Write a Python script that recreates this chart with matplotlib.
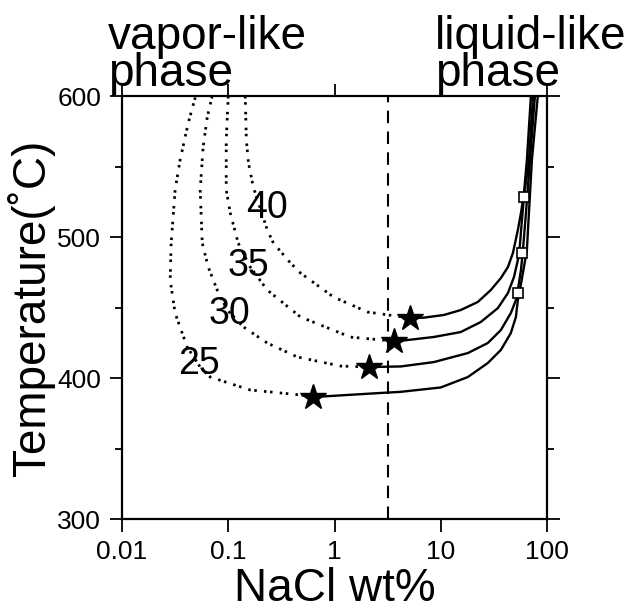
import numpy as np
import matplotlib.pyplot as plt
from matplotlib.ticker import FixedLocator, FixedFormatter, MultipleLocator, NullLocator

plt.rcParams['font.family'] = ['Liberation Sans', 'DejaVu Sans']

# pressure of each curve (MPa)
pressures = [25, 30, 35, 40]

# vapor-like branches (dotted): NaCl wt% / temperature
vap_x = {
    25: [0.0489, 0.042, 0.0352, 0.0316, 0.029, 0.0284, 0.0316, 0.041, 0.0544, 0.0676, 0.161, 0.478, 0.63],
    30: [0.0706, 0.0634, 0.058, 0.0544, 0.0569, 0.0648, 0.0787, 0.098, 0.139, 0.233, 0.448, 1.14, 2.09],
    35: [0.1, 0.0957, 0.0957, 0.1045, 0.124, 0.161, 0.233, 0.478, 1.42, 3.6],
    40: [0.1445, 0.148, 0.155, 0.172, 0.233, 0.266, 0.385, 0.478, 0.98, 2.05, 5.1],
}
vap_t = {
    25: [599, 580.9, 554.6, 533.3, 495.7, 469.5, 446, 422, 407.8, 400.7, 391.5, 388, 386.5],
    30: [600, 585, 563.8, 533.3, 495.7, 478.7, 462.4, 448.2, 436.2, 424.8, 414.9, 408.5, 407.8],
    35: [600, 568.8, 533.3, 517, 495.7, 478.7, 462.4, 443.3, 429, 426.2],
    40: [600, 568.8, 552.5, 535.5, 505, 495.7, 481.6, 474.5, 457.4, 446.8, 442.6],
}

# liquid-like branches (solid)
liq_x = {
    25: [0.63, 2.72, 4.2, 10, 18, 27.7, 36.8, 45.7, 51, 53.2, 55.6, 60.7, 64.7, 67.6, 72.1, 82],
    30: [2.09, 4.2, 8.6, 18, 27.7, 36.8, 45.7, 51, 53.2, 56.9, 59.4, 63.4, 69.2, 77],
    35: [3.6, 4.2, 8.6, 15.4, 23.8, 34.5, 42.9, 48.9, 53.2, 55.6, 58.1, 60.7, 67.6, 73.8],
    40: [5.1, 6.9, 10.7, 15.4, 22.3, 29.6, 36.8, 42.9, 47.8, 53.2, 56.9, 60.7, 64.7, 70.6],
}
liq_t = {
    25: [386.5, 389.4, 390.2, 393.3, 400.7, 410.6, 419.9, 431.9, 443.3, 455.3, 462.4, 478.7, 490.8, 517, 554.6, 600],
    30: [407.8, 408.2, 411.3, 417.7, 424.8, 434, 446.1, 455.3, 462.4, 476.6, 490.8, 517, 554.6, 600],
    35: [426.2, 426.4, 429.1, 432.6, 439.7, 449.6, 460.3, 471.6, 483.7, 494.3, 512, 528.4, 554.6, 600],
    40: [442.6, 442.8, 444.7, 448.2, 453.9, 462.4, 470.9, 478.7, 488.7, 505, 517, 531.2, 554.6, 600],
}

# critical points (stars)
crit_x = [0.63, 2.09, 3.6, 5.1]
crit_t = [386.5, 407.8, 426.2, 442.6]

# open squares on the liquid branches
sq_x = [53.8, 58.5, 60.7]
sq_t = [460.3, 489.0, 528.4]

# curve labels
lab_x = [0.0532, 0.102, 0.155, 0.233]
lab_t = [410, 445.4, 479.4, 520.6]

seawater = 3.2  # wt%

fig = plt.figure(figsize=(6.29, 6.14), dpi=100)
ax = fig.add_axes([0.194, 0.1547, 0.6756, 0.6889])

dots = (0, (0.9, 1.3, 0.9, 2.6))
for p in pressures:
    ax.plot(vap_x[p], vap_t[p], color='black', lw=2.0, linestyle=dots, clip_on=False)
    ax.plot(liq_x[p], liq_t[p], color='black', lw=1.7, solid_capstyle='butt')

ax.axvline(seawater, color='black', lw=1.5, linestyle=(0, (6, 4)))

ax.plot(crit_x, crit_t, linestyle='none', marker='*', markersize=19,
        color='black', markeredgecolor='black', zorder=5)
ax.plot(sq_x, sq_t, linestyle='none', marker='s', markersize=7,
        markerfacecolor='white', markeredgecolor='black', markeredgewidth=1.2, zorder=5)

for p, lx, lt in zip(pressures, lab_x, lab_t):
    ax.text(lx, lt, str(p), fontsize=27, ha='center', va='center')

ax.set_xscale('log')
ax.set_xlim(0.01, 100)
ax.set_ylim(300, 600)

xt = [0.01, 0.1, 1, 10, 100]
ax.xaxis.set_major_locator(FixedLocator(xt))
ax.xaxis.set_major_formatter(FixedFormatter(['0.01', '0.1', '1', '10', '100']))
ax.xaxis.set_minor_locator(NullLocator())
ax.yaxis.set_major_locator(MultipleLocator(100))
ax.yaxis.set_minor_locator(MultipleLocator(50))

ax.tick_params(which='both', direction='out', top=True, right=True, width=1.3,
               labelsize=19, pad=6)
ax.tick_params(which='major', length=9)
ax.tick_params(which='minor', length=5)
for s in ax.spines.values():
    s.set_linewidth(1.6)

ax.set_xlabel('NaCl wt%', fontsize=33, labelpad=2)
ax.set_ylabel('Temperature(˚C)', fontsize=33, labelpad=2)

# phase labels above the plot, tight line spacing like the original
# (baseline alignment here goes to the last line, "phase")
fig.text(108 / 629, 1 - 86 / 614, 'vapor-like\nphase', fontsize=33,
         va='baseline', linespacing=0.79)
fig.text(435 / 629, 1 - 86 / 614, 'liquid-like\nphase', fontsize=33,
         va='baseline', linespacing=0.79)

fig.savefig('out.png', dpi=100)
